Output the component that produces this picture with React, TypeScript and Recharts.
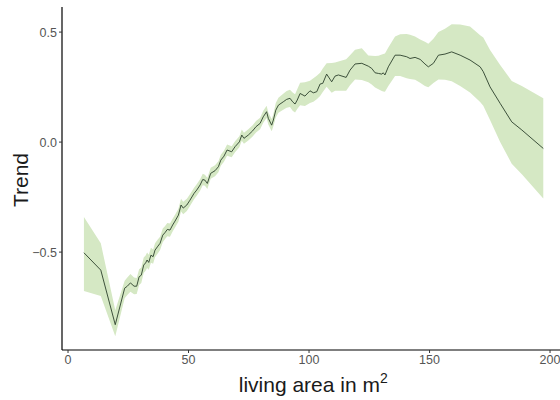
import { ComposedChart, Area, Line, XAxis, YAxis, Label } from "recharts";

// living area (m²) at each smoothed point
const area = [
  6.6, 13.6, 19.6, 23.5, 24.6, 25.9, 27.4, 28.5, 29.5, 30.4, 31.4, 32.2, 32.8, 33.5, 34.4, 35.3,
  36.1, 37.3, 38.2, 39.3, 40.2, 41.2, 42.3, 43.4, 44.4, 45.8, 46.9, 47.8, 49.3, 50.6, 52.3, 53.4,
  54.8, 55.9, 56.8, 57.8, 59.2, 61.0, 62.4, 63.4, 64.7, 66.0, 67.9, 69.3, 71.1, 72.1, 73.0, 74.8,
  76.6, 78.0, 79.7, 81.0, 82.4, 83.1, 84.5, 85.2, 86.2, 87.3, 89.3, 90.7, 92.1, 93.2, 94.2, 95.1,
  96.3, 98.3, 100.4, 101.8, 103.2, 104.6, 105.7, 107.3, 109.4, 110.8, 112.2, 115.4, 117.0, 119.1,
  121.9, 124.6, 126.0, 127.4, 128.8, 130.2, 130.8, 131.5, 132.9, 135.7, 137.8, 140.5, 141.9, 144.0,
  146.1, 148.1, 149.5, 151.6, 153.7, 156.4, 159.2, 162.7, 166.8, 171.0, 172.3, 175.1, 179.3, 184.1,
  188.3, 197.2,
];

const trend = [
  -0.503, -0.582, -0.83, -0.664, -0.655, -0.64, -0.655, -0.655, -0.612, -0.605, -0.559, -0.549,
  -0.536, -0.547, -0.514, -0.521, -0.491, -0.473, -0.46, -0.423, -0.412, -0.397, -0.4, -0.377,
  -0.359, -0.332, -0.286, -0.3, -0.286, -0.264, -0.233, -0.218, -0.195, -0.17, -0.173, -0.188,
  -0.142, -0.13, -0.112, -0.082, -0.064, -0.036, -0.044, -0.021, 0.001, 0.032, 0.017, 0.032, 0.051,
  0.07, 0.085, 0.115, 0.138, 0.108, 0.077, 0.1, 0.145, 0.168, 0.183, 0.194, 0.199, 0.183, 0.173,
  0.191, 0.221, 0.209, 0.233, 0.224, 0.229, 0.264, 0.267, 0.309, 0.274, 0.3, 0.305, 0.294, 0.327,
  0.355, 0.358, 0.345, 0.335, 0.315, 0.312, 0.309, 0.315, 0.305, 0.342, 0.395, 0.395, 0.388, 0.38,
  0.385, 0.376, 0.355, 0.342, 0.358, 0.395, 0.4, 0.41, 0.395, 0.373, 0.342, 0.32, 0.251, 0.176,
  0.092, 0.055, -0.029,
];

const lower = [
  -0.677, -0.7, -0.882, -0.71, -0.695, -0.68, -0.692, -0.69, -0.65, -0.64, -0.595, -0.585, -0.572,
  -0.58, -0.548, -0.553, -0.523, -0.505, -0.49, -0.455, -0.442, -0.428, -0.43, -0.406, -0.388,
  -0.362, -0.316, -0.328, -0.313, -0.291, -0.26, -0.244, -0.221, -0.196, -0.199, -0.213, -0.167,
  -0.155, -0.137, -0.107, -0.089, -0.062, -0.069, -0.046, -0.024, 0.006, -0.008, 0.007, 0.025,
  0.044, 0.058, 0.088, 0.11, 0.08, 0.049, 0.072, 0.112, 0.133, 0.147, 0.156, 0.16, 0.143, 0.135,
  0.15, 0.168, 0.164, 0.178, 0.183, 0.195, 0.209, 0.228, 0.251, 0.224, 0.233, 0.233, 0.233, 0.258,
  0.285, 0.282, 0.272, 0.262, 0.248, 0.24, 0.232, 0.23, 0.229, 0.255, 0.3, 0.3, 0.29, 0.287, 0.283,
  0.27, 0.255, 0.249, 0.268, 0.285, 0.283, 0.276, 0.255, 0.225, 0.182, 0.165, 0.1, 0.0, -0.098,
  -0.146, -0.256,
];

const upper = [
  -0.34, -0.46, -0.764, -0.63, -0.615, -0.6, -0.615, -0.618, -0.578, -0.57, -0.525, -0.515, -0.502,
  -0.512, -0.48, -0.488, -0.46, -0.442, -0.43, -0.393, -0.382, -0.368, -0.37, -0.348, -0.33, -0.303,
  -0.257, -0.271, -0.258, -0.237, -0.207, -0.192, -0.169, -0.144, -0.148, -0.162, -0.117, -0.105,
  -0.087, -0.057, -0.039, -0.011, -0.019, 0.004, 0.026, 0.057, 0.042, 0.058, 0.077, 0.096, 0.111,
  0.142, 0.165, 0.135, 0.105, 0.128, 0.178, 0.202, 0.22, 0.232, 0.238, 0.225, 0.218, 0.24, 0.27,
  0.272, 0.279, 0.29, 0.302, 0.315, 0.335, 0.358, 0.359, 0.362, 0.366, 0.376, 0.395, 0.42, 0.426,
  0.394, 0.392, 0.391, 0.392, 0.398, 0.4, 0.403, 0.43, 0.48, 0.49, 0.491, 0.488, 0.48, 0.466,
  0.456, 0.447, 0.47, 0.5, 0.515, 0.536, 0.535, 0.525, 0.486, 0.475, 0.418, 0.35, 0.278, 0.255,
  0.199,
];

const xTicks = [0, 50, 100, 150, 200];
const yTicks = [-0.5, 0, 0.5];

const rows = area.map((a, i) => ({
  area: a,
  trend: trend[i],
  band: [lower[i], upper[i]],
}));

const font = "'Liberation Sans', Arial, sans-serif";

const fmtY = (v: number) => (v === 0 ? "0.0" : v.toFixed(1).replace("-", "\u2212"));

const XTitle = (props: any) => {
  const vb = props.viewBox || { x: 62, y: 350, width: 502 };
  return (
    <text
      x={vb.x + vb.width / 2}
      y={vb.y + 42}
      textAnchor="middle"
      fontSize={21}
      fontFamily={font}
      fill="#1a1a1a"
    >
      living area in m
      <tspan dy={-9} fontSize={14}>
        2
      </tspan>
    </text>
  );
};

const YTitle = () => (
  <text
    x={28}
    y={180}
    transform="rotate(-90, 28, 180)"
    textAnchor="middle"
    fontSize={21}
    fontFamily={font}
    fill="#1a1a1a"
  >
    Trend
  </text>
);

export default function App() {
  return (
    <div style={{ position: "absolute", left: 0, top: 0 }}>
      <ComposedChart
        width={570}
        height={400}
        data={rows}
        margin={{ top: 7, right: 5.5, bottom: 0, left: 0 }}
      >
        <XAxis
          dataKey="area"
          type="number"
          domain={[-2.5, 206]}
          ticks={xTicks}
          allowDataOverflow
          height={50}
          tickSize={3}
          tickMargin={2}
          axisLine={{ stroke: "#000", strokeWidth: 1.2 }}
          tickLine={{ stroke: "#333" }}
          tick={{ fill: "#555", fontSize: 12.5, fontFamily: font }}
          label={<Label content={XTitle} />}
        />
        <YAxis
          type="number"
          domain={[-0.945, 0.614]}
          ticks={yTicks}
          allowDataOverflow
          width={62}
          tickSize={3}
          tickMargin={2}
          tickFormatter={fmtY}
          axisLine={{ stroke: "#000", strokeWidth: 1.2 }}
          tickLine={{ stroke: "#333" }}
          tick={{ fill: "#555", fontSize: 12.5, fontFamily: font }}
          label={<Label content={YTitle} />}
        />
        <Area
          dataKey="band"
          type="linear"
          stroke="none"
          fill="#d5e8c4"
          fillOpacity={1}
          isAnimationActive={false}
        />
        <Line
          dataKey="trend"
          type="linear"
          stroke="#2b3f2b"
          strokeWidth={0.9}
          dot={false}
          activeDot={false}
          isAnimationActive={false}
        />
      </ComposedChart>
    </div>
  );
}
